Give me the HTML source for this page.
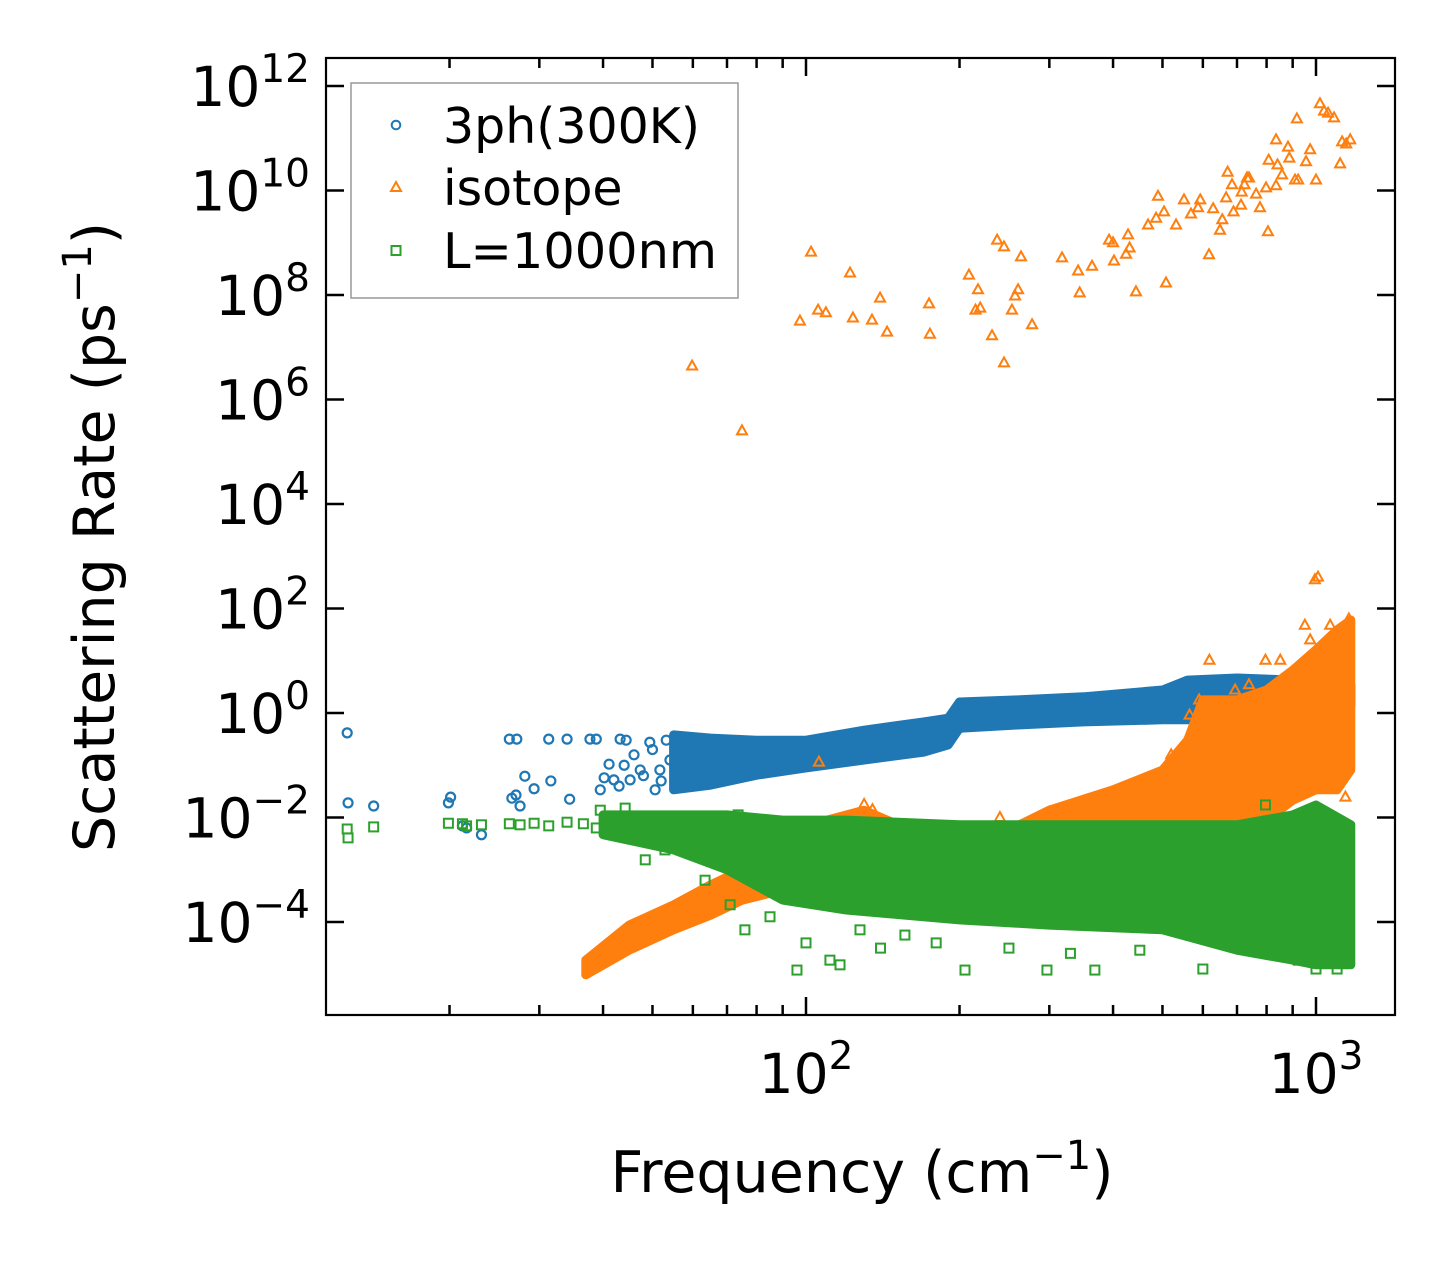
<!DOCTYPE html>
<html><head><meta charset="utf-8"><style>
html,body{margin:0;padding:0;background:#fff;}
svg{display:block;font-family:"DejaVu Sans","Liberation Sans",sans-serif;}
</style></head><body>
<svg id="chart" width="1455" height="1265" viewBox="0 0 1455 1265" xmlns="http://www.w3.org/2000/svg">
<rect x="0" y="0" width="1455" height="1265" fill="#fff"/>
<g id="marks"></g>
<g id="axes"></g>
<g id="legend">
  <rect x="351" y="83" width="387" height="215" fill="#fff" fill-opacity="0.8" stroke="#999" stroke-width="1.5"/>
  <circle cx="396" cy="125" r="4.3" fill="none" stroke="#1f77b4" stroke-width="2"/>
  <text x="443" y="143" font-size="49" textLength="257" lengthAdjust="spacingAndGlyphs">3ph(300K)</text>
  <path d="M396 182 L401 191 L391 191 Z" fill="none" stroke="#ff7f0e" stroke-width="2"/>
  <text x="443" y="205" font-size="49">isotope</text>
  <rect x="391.5" y="246" width="9" height="9" fill="none" stroke="#2ca02c" stroke-width="2"/>
  <text x="443" y="268" font-size="49" textLength="274" lengthAdjust="spacingAndGlyphs">L=1000nm</text>
</g>
<text x="862" y="1192" font-size="57" text-anchor="middle">Frequency (cm<tspan font-size="40" dy="-23">−1</tspan><tspan dy="23">)</tspan></text>
<text transform="translate(114,537) rotate(-90)" font-size="57" text-anchor="middle">Scattering Rate (ps<tspan font-size="40" dy="-23">−1</tspan><tspan dy="23">)</tspan></text>
</svg>
<script>
// ---- data (frequency in cm^-1, rates as log10 of ps^-1) ----
const isoHighFreq=[59.8,74.9,102.3,97.3,105.6,109.4,122,123.6,134.7,139.7,144.2,174.3,175,208.7,217.4,219.6,215,231.6,237,244.5,244.5,257,264,260.5,253.4,277.5,317.7,341.6,344,363.8,392.8,400,401.7,424.2,428,431,443.6,468.5,490,485.8,503.5,508,531.6,551,568.7,587,593,616.9,628.5,648.3,655,684.4,712.8,732.4,739,763,776.5,798,805,835,857.7,840.5,881.2,886.6,909.6,917.2,955.9,973.9,1000,1018,1037,1056,1085,1115,1125,1146,1167,715,666.5,689,724,671,835,807.7,922.6,774];
const isoHighLog=[6.64,5.40,8.82,7.50,7.71,7.66,8.42,7.56,7.52,7.94,7.29,7.83,7.25,8.38,8.10,7.75,7.71,7.22,9.05,8.92,6.70,7.98,8.73,8.10,7.71,7.43,8.71,8.46,8.04,8.55,9.05,9.00,8.65,8.78,9.15,8.90,8.06,9.34,9.89,9.47,9.59,8.23,9.34,9.82,9.55,9.67,9.82,8.77,9.65,9.24,9.44,10.11,9.72,10.24,10.24,9.93,9.67,10.05,9.21,10.09,10.30,10.49,10.83,10.62,10.20,11.37,10.55,10.78,10.20,11.66,11.52,11.48,11.39,10.51,10.93,10.89,10.97,9.97,9.86,9.59,10.11,10.35,10.97,10.58,10.20];
const isoExtraFreq=[995,1009,951,974,1066,796,851,739,618,1142,694,106,565,590,130,135,240,300,420,520,1150,1160,1100,880,960];
const isoExtraLog=[2.55,2.60,1.68,1.40,1.68,1.01,1.01,0.54,1.01,-1.61,0.44,-0.94,-0.04,0.25,-1.75,-1.85,-2.0,-1.9,-1.6,-0.8,-0.9,1.8,1.0,-1.2,-0.7];
const isoBandFreq=[37,45,55,65,75,90,110,130,160,200,250,300,400,500,560,600,700,800,900,1000,1100,1170];
const isoBandLo=[-5.01,-4.54,-4.15,-3.87,-3.58,-3.39,-3.20,-3.00,-3.00,-3.00,-3.00,-3.00,-3.00,-2.81,-2.62,-2.43,-2.24,-2.05,-1.67,-1.47,-1.47,-1.09];
const isoBandHi=[-4.73,-4.06,-3.67,-3.29,-3.00,-2.62,-2.05,-1.86,-2.24,-2.43,-2.24,-1.86,-1.47,-1.09,-0.52,0.25,0.25,0.44,0.82,1.21,1.59,1.78];

const phFreq=[12.6,12.65,14.2,19.9,20.1,21.2,21.6,23.1,26.2,27.1,26.5,27.0,27.5,28.1,29.3,31.3,31.6,34.0,34.4,37.7,38.8,39.5,40.2,41.1,42.0,43.2,44.4,45.2,47.3,49.4,50.6,51.7,53.2,54.1,56.6,46,48,50,52,44,43];
const phLog=[-0.38,-1.72,-1.78,-1.72,-1.61,-2.16,-2.20,-2.33,-0.50,-0.50,-1.63,-1.57,-1.78,-1.21,-1.45,-0.50,-1.30,-0.50,-1.65,-0.50,-0.50,-1.47,-1.24,-0.98,-1.28,-0.50,-0.52,-1.28,-1.09,-0.56,-1.47,-1.09,-0.52,-0.90,-0.56,-0.8,-1.2,-0.7,-1.3,-1.0,-1.4];
const phBandFreq=[55,65,80,100,130,170,190,200,260,350,500,560,700,900,1170];
const phBandLo=[-1.47,-1.38,-1.19,-1.05,-0.90,-0.75,-0.61,-0.29,-0.23,-0.17,-0.13,-0.13,-0.17,-0.10,0.15];
const phBandHi=[-0.42,-0.48,-0.52,-0.52,-0.33,-0.17,-0.10,0.21,0.25,0.31,0.44,0.63,0.67,0.63,0.54];

const bdFreq=[12.6,12.65,14.2,19.9,21.2,21.6,23.1,26.2,27.5,29.3,31.3,34.0,36.6,38.8,39.5,40.4,42.2,44.2,45.2,48.4,50.6,52.9,59.2,63.4,71.0,73.6,75.9,96.0,111.4,116.6,127.6,156.3,205,296.8,368.5,451.4,796,922.6,85,100,140,180,250,330,600,1000,1100];
const bdLog=[-2.22,-2.39,-2.18,-2.11,-2.12,-2.16,-2.14,-2.12,-2.14,-2.11,-2.16,-2.09,-2.12,-2.20,-1.86,-2.24,-2.14,-1.82,-2.24,-2.81,-2.43,-2.62,-2.05,-3.20,-3.67,-1.95,-4.15,-4.92,-4.73,-4.82,-4.15,-4.25,-4.92,-4.92,-4.92,-4.54,-1.76,-4.73,-3.9,-4.4,-4.5,-4.4,-4.5,-4.6,-4.9,-4.9,-4.9];
const bdBandFreq=[40,55,70,90,120,200,300,500,700,900,1000,1170];
const bdBandLo=[-2.33,-2.62,-3.00,-3.58,-3.77,-3.96,-4.06,-4.15,-4.54,-4.73,-4.82,-4.82];
const bdBandHi=[-1.95,-1.95,-1.95,-2.05,-2.05,-2.14,-2.14,-2.14,-2.14,-1.95,-1.76,-2.14];

const yTickExp=[12,10,8,6,4,2,0,-2,-4];
const xTickExp=[2,3];

// ---- axis functions ----
const L=326,R=1395,T=58,B=1015;
const xPix=f=>806+(Math.log10(f)-2)*510;
const yPix=e=>713-e*52.25;
const NS="http://www.w3.org/2000/svg";
const marks=document.getElementById('marks');
const axes=document.getElementById('axes');
function mk(tag,attrs,parent){const el=document.createElementNS(NS,tag);for(const k in attrs)el.setAttribute(k,attrs[k]);parent.appendChild(el);return el;}

function band(fr,lo,hi,color,name){
  let pts=[];
  for(let i=0;i<fr.length;i++)pts.push(xPix(fr[i]).toFixed(1)+','+yPix(hi[i]).toFixed(1));
  for(let i=fr.length-1;i>=0;i--)pts.push(xPix(fr[i]).toFixed(1)+','+yPix(lo[i]).toFixed(1));
  const p=mk('polygon',{points:pts.join(' '),fill:color,stroke:color,'stroke-width':9,'stroke-linejoin':'round'},marks);
  
  
}
function circles(fr,lg,name){
  for(let i=0;i<fr.length;i++){
    const c=mk('circle',{cx:xPix(fr[i]),cy:yPix(lg[i]),r:4.5,fill:'none',stroke:'#1f77b4','stroke-width':2.2},marks);
    
    
  }
}
function tris(fr,lg,name){
  for(let i=0;i<fr.length;i++){
    const x=xPix(fr[i]),y=yPix(lg[i]);
    const t=mk('path',{d:`M${x} ${y-5.5}L${x+5} ${y+3.5}L${x-5} ${y+3.5}Z`,fill:'none',stroke:'#ff7f0e','stroke-width':2},marks);
    
    
  }
}
function squares(fr,lg,name){
  for(let i=0;i<fr.length;i++){
    const x=xPix(fr[i]),y=yPix(lg[i]);
    const s=mk('rect',{x:x-4.5,y:y-4.5,width:9,height:9,fill:'none',stroke:'#2ca02c','stroke-width':2},marks);
    
    
  }
}
band(phBandFreq,phBandLo,phBandHi,'#1f77b4','3ph-dense-band');
circles(phFreq,phLog,'3ph-point');
band(isoBandFreq,isoBandLo,isoBandHi,'#ff7f0e','isotope-dense-band');
tris(isoHighFreq,isoHighLog,'isotope-point');
tris(isoExtraFreq,isoExtraLog,'isotope-point');
band(bdBandFreq,bdBandLo,bdBandHi,'#2ca02c','boundary-dense-band');
squares(bdFreq,bdLog,'boundary-point');

// frame
const fr=mk('rect',{x:L,y:T,width:R-L,height:B-T,fill:'none',stroke:'#000','stroke-width':2.2},axes);


// y ticks
yTickExp.forEach(e=>{
  const y=yPix(e);
  const t1=mk('line',{x1:L,x2:L+18,y1:y,y2:y,stroke:'#000','stroke-width':2.5},axes);
  
  
  const t2=mk('line',{x1:R,x2:R-18,y1:y,y2:y,stroke:'#000','stroke-width':2.5},axes);
  
  
  const tx=mk('text',{x:310,y:y+20,'font-size':55,'text-anchor':'end'},axes);
  
  
  tx.innerHTML='10<tspan font-size="39" dy="-24">'+(e<0?'−'+(-e):e)+'</tspan>';
});
// x ticks (major + minor)
for(let d=1;d<=3;d++){
  for(let m=1;m<=9;m++){
    const f=m*Math.pow(10,d);
    const x=xPix(f);
    if(x<L+1||x>R-1)continue;
    const major=(m===1);
    const len=major?18:10;
    const a=mk('line',{x1:x,x2:x,y1:B,y2:B-len,stroke:'#000','stroke-width':2.5},axes);
    
    
    const b=mk('line',{x1:x,x2:x,y1:T,y2:T+len,stroke:'#000','stroke-width':2.5},axes);
    
    
  }
}
xTickExp.forEach(e=>{
  const x=xPix(Math.pow(10,e));
  const tx=mk('text',{x:x,y:1093,'font-size':55,'text-anchor':'middle'},axes);
  
  
  tx.innerHTML='10<tspan font-size="39" dy="-24">'+e+'</tspan>';
});
</script>
</body></html>
